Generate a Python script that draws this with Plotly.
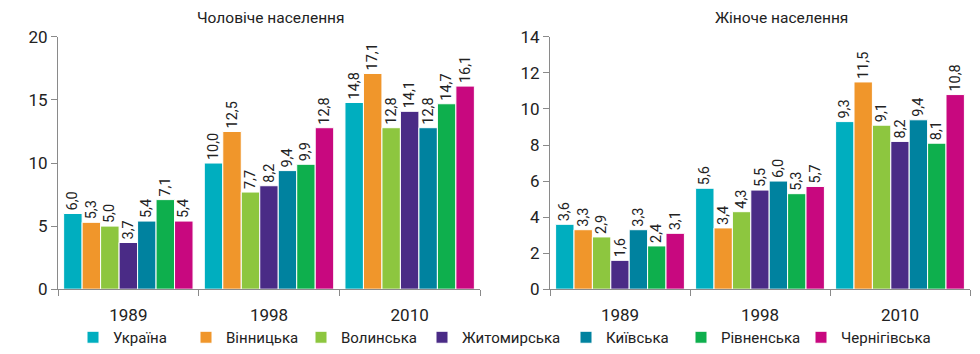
import plotly.graph_objects as go

years = ["1989", "1998", "2010"]
regions = ["Україна", "Вінницька", "Волинська", "Житомирська", "Київська", "Рівненська", "Чернігівська"]
colors = ["#00AEBF", "#F0962B", "#8DC63F", "#4A2B86", "#00829F", "#0EAF4D", "#C8087F"]

male = {
    "Україна": [6.0, 10.0, 14.8],
    "Вінницька": [5.3, 12.5, 17.1],
    "Волинська": [5.0, 7.7, 12.8],
    "Житомирська": [3.7, 8.2, 14.1],
    "Київська": [5.4, 9.4, 12.8],
    "Рівненська": [7.1, 9.9, 14.7],
    "Чернігівська": [5.4, 12.8, 16.1],
}
female = {
    "Україна": [3.6, 5.6, 9.3],
    "Вінницька": [3.3, 3.4, 11.5],
    "Волинська": [2.9, 4.3, 9.1],
    "Житомирська": [1.6, 5.5, 8.2],
    "Київська": [3.3, 6.0, 9.4],
    "Рівненська": [2.4, 5.3, 8.1],
    "Чернігівська": [3.1, 5.7, 10.8],
}

# legend entry left positions (px)
legend_px = [94, 207, 322, 443, 587, 702, 822]

font_family = "Roboto, 'DejaVu Sans', sans-serif"
axis_gray = "#8a8a8a"

fig = go.Figure()
for i, r in enumerate(regions):
    lg = "legend" if i == 0 else f"legend{i + 1}"
    for data, xa, ya, show in [(male, "x", "y", True), (female, "x2", "y2", False)]:
        fig.add_trace(go.Bar(
            x=years, y=data[r], name=r, xaxis=xa, yaxis=ya,
            marker=dict(color=colors[i], line=dict(color="white", width=1)),
            texttemplate="%{y:.1f}", textposition="outside", textangle=-90,
            textfont=dict(size=14.5, color="#222"), constraintext="none",
            cliponaxis=False, showlegend=show, legendgroup=r, legend=lg,
        ))

xcommon = dict(type="category", showline=True, linecolor=axis_gray, linewidth=1,
               ticks="outside", tickson="boundaries", ticklen=6, tickcolor=axis_gray,
               tickfont=dict(size=17, color="#222"), showgrid=False, automargin=False,
               ticklabelstandoff=10)
ycommon = dict(showline=True, linecolor=axis_gray, linewidth=1, ticks="outside",
               ticklen=6, tickcolor=axis_gray, tickfont=dict(size=17, color="#222"),
               showgrid=False, zeroline=False, automargin=False)

ydom = [1 - 290 / 354, 1 - 37 / 354]
layout_legends = {}
for i, px in enumerate(legend_px):
    key = "legend" if i == 0 else f"legend{i + 1}"
    layout_legends[key] = dict(orientation="h", x=(px - 21) / 980, xanchor="left",
                               y=1 - 338 / 354, yanchor="middle", bgcolor="rgba(0,0,0,0)",
                               font=dict(size=15, color="#222"), itemwidth=30)

fig.update_layout(
    width=980, height=354,
    margin=dict(l=0, r=0, t=0, b=0),
    paper_bgcolor="white", plot_bgcolor="white",
    font=dict(family=font_family, color="#222"),
    separators=", ",
    barmode="group", bargap=0.08, bargroupgap=0,
    xaxis=dict(**xcommon, domain=[58 / 980, 480 / 980], anchor="y"),
    xaxis2=dict(**xcommon, domain=[550 / 980, 970 / 980], anchor="y2"),
    yaxis=dict(**ycommon, domain=ydom, range=[0, 20], dtick=5, anchor="x"),
    yaxis2=dict(**ycommon, domain=ydom, range=[0, 14], dtick=2, anchor="x2"),
    annotations=[
        dict(text="Чоловіче населення", x=271 / 980, y=1 - 18 / 354, xref="paper", yref="paper",
             showarrow=False, font=dict(size=15.5, color="#222"), xanchor="center", yanchor="middle"),
        dict(text="Жіноче населення", x=781 / 980, y=1 - 18 / 354, xref="paper", yref="paper",
             showarrow=False, font=dict(size=15.5, color="#222"), xanchor="center", yanchor="middle"),
    ],
    **layout_legends,
)
fig.write_html("out.html")
